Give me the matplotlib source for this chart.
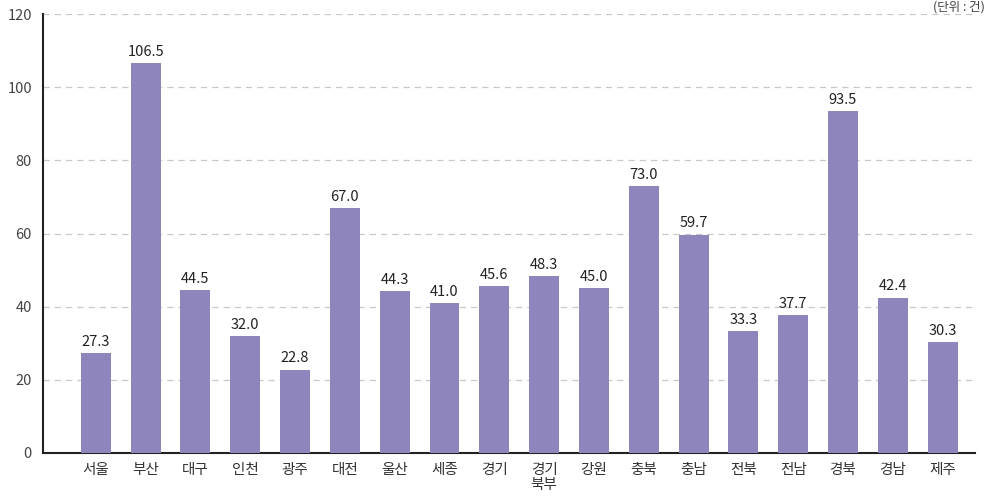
import matplotlib
matplotlib.use("Agg")
import matplotlib.pyplot as plt
import numpy as np

plt.rcParams['font.family'] = ['Noto Sans CJK KR', 'DejaVu Sans']

regions = ['서울', '부산', '대구', '인천', '광주', '대전', '울산', '세종', '경기', '경기\n북부',
           '강원', '충북', '충남', '전북', '전남', '경북', '경남', '제주']
values = [27.3, 106.5, 44.5, 32.0, 22.8, 67.0, 44.3, 41.0, 45.6, 48.3,
          45.0, 73.0, 59.7, 33.3, 37.7, 93.5, 42.4, 30.3]

fig = plt.figure(figsize=(9.9, 4.99), dpi=100)
ax = fig.add_axes([43/990, 46/499, (975-43)/990, (453-14)/499])

x = np.arange(len(regions))
bars = ax.bar(x, values, width=0.6, color='#8f85bd', zorder=3)
for xi, v in zip(x, values):
    ax.text(xi, v + 1.2, f"{v:.1f}", ha='center', va='bottom', fontsize=10.5, color='#222222')

ax.set_xlim(-1.06, 17.65)
ax.set_ylim(0, 120)
ax.set_yticks(np.arange(0, 121, 20))
ax.set_xticks(x)
ax.set_xticklabels(regions, fontsize=10.5, color='#333333', linespacing=1.1)
ax.tick_params(axis='y', length=0, labelsize=10.5, labelcolor='#444444', pad=8)
ax.tick_params(axis='x', length=0, pad=7)
ax.yaxis.grid(True, linestyle=(0, (5, 4)), color='#c8c8c8', linewidth=0.9, zorder=0)
for s in ['top', 'right']:
    ax.spines[s].set_visible(False)
ax.spines['left'].set_color('#222222')
ax.spines['bottom'].set_color('#222222')
ax.spines['left'].set_linewidth(1.5)
ax.spines['bottom'].set_linewidth(1.5)

# unit note, top right
fig.text(0.995, 0.998, '(단위 : 건)', ha='right', va='top', fontsize=9, color='#444444')

fig.savefig('out.png', dpi=100)
